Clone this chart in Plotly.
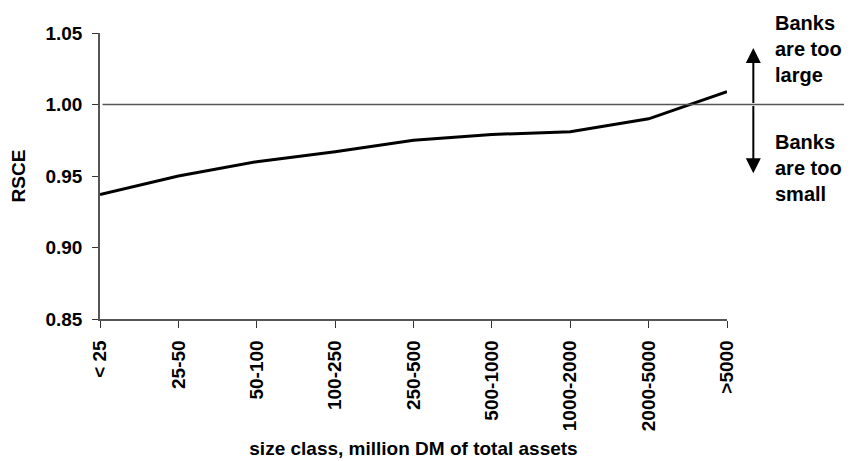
import plotly.graph_objects as go

categories = ["< 25", "25-50", "50-100", "100-250", "250-500", "500-1000",
              "1000-2000", "2000-5000", ">5000"]
rsce = [0.937, 0.950, 0.960, 0.967, 0.975, 0.979, 0.981, 0.990, 1.009]
y_ticks = [0.85, 0.90, 0.95, 1.00, 1.05]
y_ticktext = ["0.85", "0.90", "0.95", "1.00", "1.05"]
reference_value = 1.0
arrow_top = 1.0395
arrow_bottom = 0.952

FONT = "Liberation Sans, Arial, sans-serif"
TICK_SIZE = 19

fig = go.Figure()
fig.add_trace(go.Scatter(
    x=list(range(len(categories))), y=rsce, mode="lines",
    line=dict(color="black", width=3), showlegend=False, hoverinfo="skip"))

# reference line at 1.00 extending past the plot area
fig.add_shape(type="line", xref="x domain", yref="y", x0=0.004, x1=1.2,
              y0=reference_value, y1=reference_value,
              line=dict(color="#555555", width=1.5))

# double headed arrow
for tip in (arrow_top, arrow_bottom):
    fig.add_annotation(xref="x domain", yref="y", x=1.042, y=tip,
                       axref="x domain", ayref="y", ax=1.042, ay=reference_value,
                       showarrow=True, arrowhead=2, arrowsize=1.5, arrowwidth=2,
                       arrowcolor="black", text="")

fig.add_annotation(xref="paper", yref="paper", x=1.074, y=1.08, xanchor="left",
                   yanchor="top", showarrow=False, align="left",
                   text="Banks<br>are too<br>large",
                   font=dict(family=FONT, size=20, color="black", weight="bold"))
fig.add_annotation(xref="paper", yref="paper", x=1.074, y=0.665, xanchor="left",
                   yanchor="top", showarrow=False, align="left",
                   text="Banks<br>are too<br>small",
                   font=dict(family=FONT, size=20, color="black", weight="bold"))

fig.update_layout(
    width=844, height=453,
    margin=dict(l=92, r=125, t=25, b=142),
    paper_bgcolor="white", plot_bgcolor="white",
    font=dict(family=FONT, color="black"),
    xaxis=dict(range=[0, 8], tickvals=list(range(len(categories))), ticktext=categories,
               tickangle=-90, showgrid=False, zeroline=False, showline=True,
               linecolor="#555555", linewidth=1.5, ticks="outside", ticklen=7,
               tickcolor="#333333", ticklabelstandoff=5, automargin=False,
               tickfont=dict(family=FONT, size=TICK_SIZE, color="black", weight="bold"),
               title=dict(text="size class, million DM of total assets", standoff=11,
                          font=dict(family=FONT, size=TICK_SIZE, color="black", weight="bold"))),
    yaxis=dict(range=[0.85, 1.05], tickvals=y_ticks, ticktext=y_ticktext,
               showgrid=False, zeroline=False, showline=True,
               linecolor="#555555", linewidth=1.5, ticks="outside", ticklen=6,
               tickcolor="#333333", ticklabelstandoff=6, automargin=False,
               tickfont=dict(family=FONT, size=TICK_SIZE, color="black", weight="bold"),
               title=dict(text="RSCE", standoff=18,
                          font=dict(family=FONT, size=TICK_SIZE, color="black", weight="bold"))),
)

fig.write_html("out.html")
